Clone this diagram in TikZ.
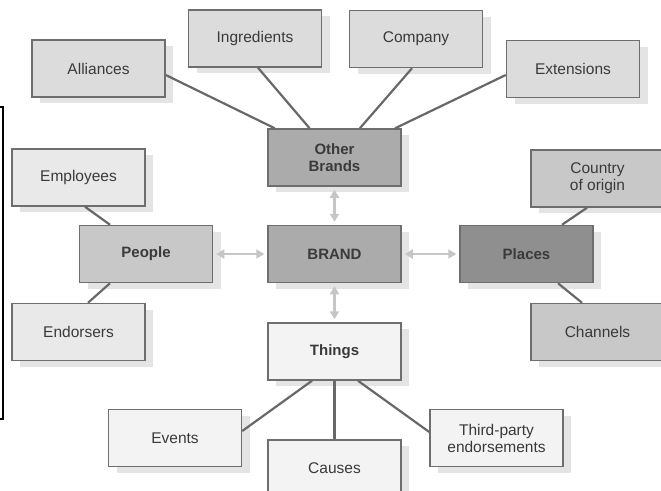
\documentclass[tikz,border=0pt]{standalone}
\usepackage{fontspec}
\setmainfont{Liberation Sans}
\usetikzlibrary{calc,shadows,arrows.meta}
\definecolor{edgegray}{HTML}{6E6E6E}
\definecolor{linkgray}{HTML}{686868}
\definecolor{arrowgray}{HTML}{C6C6C6}
\definecolor{shadowgray}{HTML}{E4E4E4}
\definecolor{textgray}{HTML}{3A3A3A}
\definecolor{fillA}{HTML}{DCDCDC}
\definecolor{fillB}{HTML}{ABABAB}
\definecolor{fillC}{HTML}{C8C8C8}
\definecolor{fillD}{HTML}{8F8F8F}
\definecolor{fillE}{HTML}{E9E9E9}
\definecolor{fillF}{HTML}{F3F3F3}
\tikzset{
  box/.style={draw=edgegray, line width=1.5pt, minimum width=133pt, minimum height=57pt,
    inner sep=0pt, align=center, text=textgray,
    font=\fontsize{15.5}{17}\selectfont,
    general shadow={shadow xshift=8pt, shadow yshift=-6pt, fill=shadowgray}},
  hub/.style={box, font=\bfseries\fontsize{15}{17}\selectfont},
  link/.style={draw=linkgray, line width=2.2pt},
  twoway/.style={draw=arrowgray, line width=2.4pt,
    {Triangle[length=8pt,width=9pt]}-{Triangle[length=8pt,width=9pt]}, shorten <=3pt, shorten >=3pt}
}
\begin{document}
\begin{tikzpicture}[x=1pt,y=-1pt]
\useasboundingbox (0,0) rectangle (661,490);
\clip (0,0) rectangle (661,490);

% outer brand sources
\node[box, fill=fillA] (alli) at (98.5,68.5) {Alliances};
\node[box, fill=fillA] (ingr) at (255,38.5) {Ingredients};
\node[box, fill=fillA] (comp) at (416,39) {Company};
\node[box, fill=fillA] (ext)  at (573,69) {Extensions};
\node[box, fill=fillE] (emp)  at (78.5,177.5) {Employees};
\node[box, fill=fillE] (endo) at (78.5,332) {Endorsers};
\node[box, fill=fillC] (cty)  at (597.5,178.5) {Country\\of origin};
\node[box, fill=fillC] (chan) at (597.5,332) {Channels};
\node[box, fill=fillF] (evt)  at (175,438) {Events};
\node[box, fill=fillF] (cau)  at (334.5,468.5) {Causes};
\node[box, fill=fillF] (tpe)  at (496.5,438) {Third-party\\endorsements};

% category hubs
\node[hub, fill=fillB] (ob)     at (334.5,157.5) {Other\\Brands};
\node[hub, fill=fillC] (people) at (146,254) {People};
\node[hub, fill=fillB] (brand)  at (334.5,254) {BRAND};
\node[hub, fill=fillD] (places) at (526.5,254) {Places};
\node[hub, fill=fillF] (things) at (334.5,351.5) {Things};

% links from sources to hubs
\draw[link] ($(alli.east)+(0,6.5)$) -- (ob);
\draw[link] ($(ingr.south)+(3,0)$) -- (ob);
\draw[link] ($(comp.south)+(-4,0)$) -- (ob);
\draw[link] ($(ext.west)+(0,6)$) -- (ob);
\draw[link] ($(emp.south)+(6.5,0)$) -- ($(people.north)+(-36,0)$);
\draw[link] ($(people.south)+(-36,0)$) -- ($(endo.north)+(9.5,0)$);
\draw[link] ($(cty.south)+(-10.5,0)$) -- ($(places.north)+(35.5,0)$);
\draw[link] ($(places.south)+(31.5,0)$) -- ($(chan.north)+(-15.5,0)$);
\draw[link] ($(things.south)+(-22.5,0)$) -- ($(evt.east)+(0,-7)$);
\draw[link] (things.south) -- (cau.north);
\draw[link] ($(things.south)+(23.5,0)$) -- ($(tpe.west)+(0,-6)$);

% two-way links to the brand
\draw[twoway] (ob.south) -- (brand.north);
\draw[twoway] (brand.south) -- (things.north);
\draw[twoway] (people.east) -- (brand.west);
\draw[twoway] (brand.east) -- (places.west);

% edge of the neighbouring frame
\draw[black, line width=1.5pt] (0,107) -- (3,107) -- (3,419) -- (0,419);
\end{tikzpicture}
\end{document}
